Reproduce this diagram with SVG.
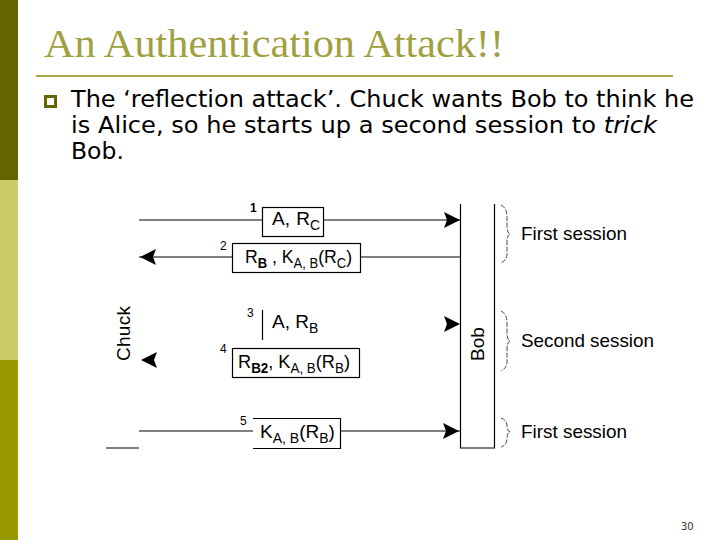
<svg xmlns="http://www.w3.org/2000/svg" width="720" height="540" viewBox="0 0 720 540">
<style>
.b{font-family:"DejaVu Sans","Liberation Sans",sans-serif;font-size:23.500px;fill:#000}
.l{font-family:"Liberation Sans",Arial,sans-serif;fill:#000;font-size:19px}
.t{font-family:"Liberation Sans",Arial,sans-serif;fill:#000;font-size:18.500px}
.s{font-size:14px}
.n{font-family:"Liberation Sans",Arial,sans-serif;font-size:12px;fill:#000}
.box{fill:#fff;stroke:#000;stroke-width:1.2}
.ln{stroke:#000;stroke-width:1.2;fill:none}
.br{stroke:#000;stroke-width:.7;fill:none;stroke-dasharray:5 1.5}
</style>
<defs>
<path id="ar" d="M0 0L-16 -8L-13 0L-16 8Z" fill="#000"/>
<path id="al" d="M0 0L16 -8L13 0L16 8Z" fill="#000"/>
</defs>
<rect width="720" height="540" fill="#fff"/>
<rect width="18" height="180" fill="#666600"/>
<rect y="180" width="18" height="180" fill="#cccc66"/>
<rect y="360" width="18" height="180" fill="#999900"/>
<text x="44" y="57" font-family="Liberation Serif,serif" font-size="41" fill="#a0a040" textLength="460" lengthAdjust="spacingAndGlyphs">An Authentication Attack!!</text>
<rect x="36" y="75" width="637" height="2" fill="#a6a64a"/>
<rect x="45.500" y="96.500" width="10" height="10" fill="#fff" stroke="#666600" stroke-width="3"/>
<text class="b" x="71" y="107" textLength="623" lengthAdjust="spacingAndGlyphs">The ‘reflection attack’. Chuck wants Bob to think he</text>
<text class="b" x="71" y="133" textLength="586" lengthAdjust="spacingAndGlyphs">is Alice, so he starts up a second session to <tspan font-style="italic">trick</tspan></text>
<text class="b" x="71" y="159">Bob.</text>
<g id="connectors">
<path class="ln" d="M139 220H460M139 257H460M139 431H460M106 448H139"/>
<use href="#ar" x="460" y="220"/>
<use href="#al" x="140" y="257"/>
<use href="#ar" x="460" y="324"/>
<use href="#al" x="141" y="360"/>
<use href="#ar" x="459" y="431"/>
</g>
<g id="node-bob">
<path class="ln" d="M460.500 204V448H494.500V204"/>
<text class="l" transform="translate(484 361) rotate(-90)">Bob</text>
</g>
<g id="node-chuck"><text class="l" transform="translate(130 361) rotate(-90)" textLength="55">Chuck</text></g>
<g id="msg-1">
<rect class="box" x="262.500" y="207.500" width="61" height="29"/>
<text class="n" x="250" y="212" font-weight="bold">1</text>
<text class="l" x="272" y="225">A,<tspan dx="1"> R</tspan><tspan class="s" dy="5">C</tspan></text>
</g>
<g id="msg-2">
<rect class="box" x="232.500" y="243.500" width="128" height="29"/>
<text class="n" x="220" y="250">2</text>
<text class="l" x="245" y="263" textLength="107" lengthAdjust="spacingAndGlyphs">R<tspan class="s" dy="5" font-weight="bold">B</tspan><tspan dy="-5"> , K</tspan><tspan class="s" dy="5">A, B</tspan><tspan dy="-5">(R</tspan><tspan class="s" dy="5">C</tspan><tspan dy="-5">)</tspan></text>
</g>
<g id="msg-3">
<path class="ln" d="M262.500 310V340"/>
<text class="n" x="247" y="317">3</text>
<text class="l" x="272" y="328">A, R<tspan class="s" dy="5">B</tspan></text>
</g>
<g id="msg-4">
<rect class="box" x="232.500" y="348.500" width="127" height="29"/>
<text class="n" x="220" y="353">4</text>
<text class="l" x="238" y="368" textLength="112" lengthAdjust="spacingAndGlyphs">R<tspan class="s" dy="5" font-weight="bold">B2</tspan><tspan dy="-5">, K</tspan><tspan class="s" dy="5">A, B</tspan><tspan dy="-5">(R</tspan><tspan class="s" dy="5">B</tspan><tspan dy="-5">)</tspan></text>
</g>
<g id="msg-5">
<path class="box" d="M253 418.500H340.500V448.500H253"/>
<rect x="253" y="422" width="4" height="23" fill="#fff"/>
<text class="n" x="240" y="425">5</text>
<text class="l" x="260" y="438">K<tspan class="s" dy="5">A, B</tspan><tspan dy="-5">(R</tspan><tspan class="s" dy="5">B</tspan><tspan dy="-5">)</tspan></text>
</g>
<g id="braces">
<path class="br" d="M501 205Q507 208 507 217V226Q507 233 510 234Q507 235 507 242V254Q507 260 501 263"/>
<text class="t" x="521" y="240" textLength="106" lengthAdjust="spacingAndGlyphs">First session</text>
<path class="br" d="M501 311Q507 314 507 322V332Q507 340 510 341Q507 342 507 350V362Q507 368 501 371"/>
<text class="t" x="521" y="347" textLength="133" lengthAdjust="spacingAndGlyphs">Second session</text>
<path class="br" d="M501 418Q507 420 507 426Q507 431 510 432Q507 433 507 438Q507 445 501 447"/>
<text class="t" x="521" y="438" textLength="106" lengthAdjust="spacingAndGlyphs">First session</text>
</g>
<text x="681" y="530" font-family="DejaVu Sans,sans-serif" font-size="10" fill="#333">30</text>
</svg>
